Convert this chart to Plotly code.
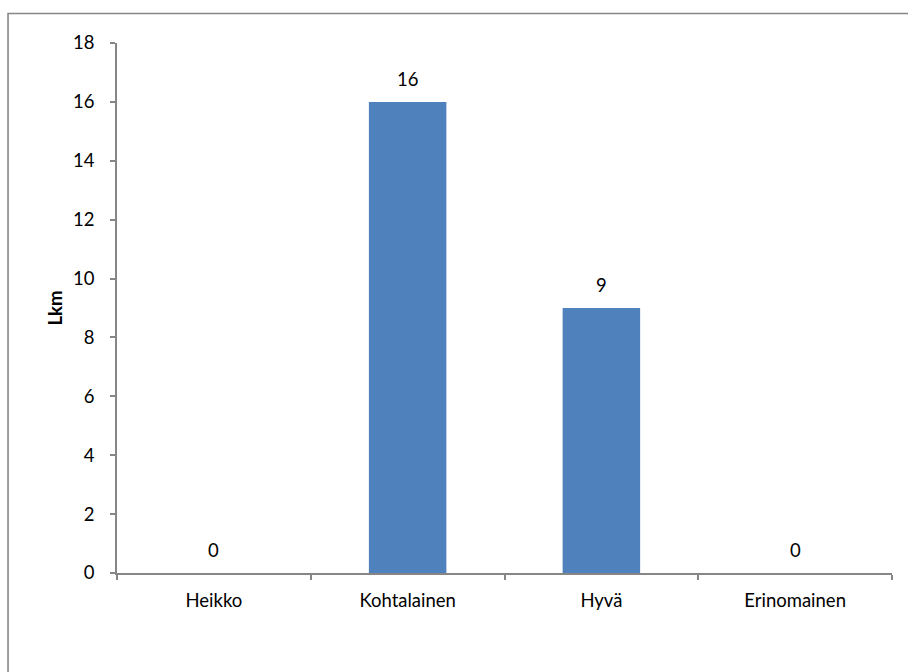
import plotly.graph_objects as go

categories = ["Heikko", "Kohtalainen", "Hyvä", "Erinomainen"]
counts = [0, 16, 9, 0]
y_ticks = [0, 2, 4, 6, 8, 10, 12, 14, 16, 18]

FONT = "Lato, 'Open Sans', sans-serif"
FSIZE = 18.5
AXIS_GREY = "#868686"

fig = go.Figure()
fig.add_trace(go.Bar(
    x=categories,
    y=counts,
    marker=dict(color="#4F81BD", line=dict(width=0)),
    width=0.4,
    hoverinfo="x+y",
))

# value labels above each bar
for cat, val in zip(categories, counts):
    fig.add_annotation(
        x=cat, y=val, text=str(val), showarrow=False,
        yanchor="bottom", yshift=10,
        font=dict(family=FONT, size=FSIZE, color="#000000"),
    )

# frame around the whole chart area
fig.add_shape(
    type="rect", xref="paper", yref="paper",
    x0=-0.1406, x1=1.05, y0=-0.22, y1=1.0557,
    line=dict(color=AXIS_GREY, width=1.6),
    fillcolor="rgba(0,0,0,0)", layer="below",
)

fig.update_layout(
    width=908, height=672,
    margin=dict(l=117, r=16, t=43, b=99),
    paper_bgcolor="white", plot_bgcolor="white",
    showlegend=False,
    font=dict(family=FONT, size=FSIZE, color="#000000"),
    xaxis=dict(
        type="category",
        showline=True, linecolor=AXIS_GREY, linewidth=1.5,
        ticks="outside", ticklen=5, tickcolor=AXIS_GREY, tickwidth=1.5,
        tickson="boundaries",
        showgrid=False, zeroline=False,
        tickfont=dict(family=FONT, size=FSIZE, color="#000000"),
        ticklabelstandoff=10,
    ),
    yaxis=dict(
        range=[0, 18],
        tickvals=y_ticks,
        showline=True, linecolor=AXIS_GREY, linewidth=1.5,
        ticks="outside", ticklen=5, tickcolor=AXIS_GREY, tickwidth=1.5,
        showgrid=False, zeroline=False,
        tickfont=dict(family=FONT, size=FSIZE, color="#000000"),
        title=dict(text="<b>Lkm</b>", font=dict(family=FONT, size=FSIZE, color="#000000"),
                   standoff=6),
        ticklabelstandoff=12,
    ),
)

fig.write_html("out.html")
